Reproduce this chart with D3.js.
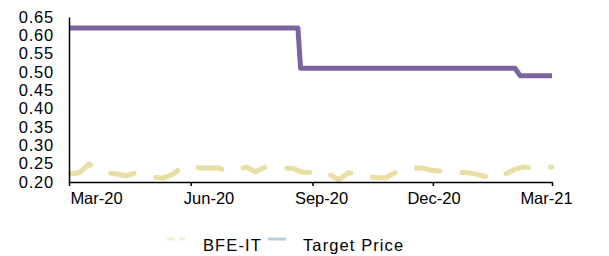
<!DOCTYPE html>
<html><head><meta charset="utf-8">
<script src="https://cdn.jsdelivr.net/npm/d3@7"></script>
<style>
body{margin:0;background:#fff;}
text{font-family:"Liberation Sans",Arial,sans-serif;fill:#000;}
</style></head>
<body><svg id="c" width="609" height="256"></svg>
<script>
const bfeStart = "2020-03-02";
const bfeValues = [0.222,0.226,0.249,0.232,0.225,0.222,0.217,0.224,0.218,0.213,0.211,0.220,0.240,0.244,
0.238,0.238,0.238,0.228,0.233,0.241,0.228,0.240,0.240,0.238,0.237,0.227,0.226,0.232,0.220,0.206,
0.225,0.224,0.215,0.212,0.211,0.225,0.235,0.238,0.238,0.232,0.230,0.229,0.226,0.225,0.220,0.214,
0.209,0.222,0.235,0.241,0.238,0.238,0.241];
const targetDates = ["2020-03-01","2020-08-21","2020-08-23","2021-02-01","2021-02-05","2021-03-01"];
const targetValues = [0.62,0.62,0.51,0.51,0.49,0.49];
const xTickDates = ["2020-03-01","2020-06-01","2020-09-01","2020-12-01","2021-03-01"];
const xTickLabels = ["Mar-20","Jun-20","Sep-20","Dec-20","Mar-21"];
const yTicks = [0.20,0.25,0.30,0.35,0.40,0.45,0.50,0.55,0.60,0.65];
const seriesNames = ["BFE-IT","Target Price"];

const parse = d3.timeParse("%Y-%m-%d");
const svg = d3.select("#c");
const x = d3.scaleTime().domain([parse("2020-03-01"), parse("2021-03-01")]).range([69,552]);
const y = d3.scaleLinear().domain([0.20,0.65]).range([182,17]);

const s0 = parse(bfeStart);
const bfe = bfeValues.map((v,i)=>({d:d3.timeDay.offset(s0,i*7),v}));
const tgt = targetDates.map((d,i)=>({d:parse(d),v:targetValues[i]}));

const line = d3.line().x(p=>x(p.d)).y(p=>y(p.v));

svg.append("path").datum(bfe).attr("d",line).attr("fill","none")
  .attr("stroke","#E9DEA3").attr("stroke-width",5).attr("stroke-linecap","round")
  .attr("stroke-linejoin","round").attr("stroke-dasharray","24,22");
svg.append("path").datum(tgt).attr("d",line).attr("fill","none")
  .attr("stroke","#7C64A1").attr("stroke-width",5).attr("stroke-linejoin","round");

// y axis
const ya = svg.append("g").attr("transform","translate(69,0)")
  .call(d3.axisLeft(y).tickValues(yTicks).tickFormat(d3.format(".2f")).tickSize(0).tickPadding(15));
ya.select(".domain").attr("stroke","#000").attr("stroke-width",1.5);
ya.selectAll("text").style("font-size","16.5px").style("letter-spacing","0.8px").attr("font-family",null);

// x axis ticks
const xa = svg.append("g").attr("transform","translate(0,182)")
  .call(d3.axisBottom(x).tickValues(xTickDates.map(parse)).tickFormat("").tickSize(4).tickSizeOuter(0));
xa.select(".domain").attr("stroke","#000").attr("stroke-width",1.5);
xa.selectAll("line").attr("stroke","#000").attr("stroke-width",1.5);

// x labels
const xl = d3.scalePoint().domain(xTickLabels).range([96,546]);
const xla = svg.append("g").attr("transform","translate(0,192)")
  .call(d3.axisBottom(xl).tickSize(0).tickPadding(0));
xla.select(".domain").remove();
xla.selectAll("text").style("font-size","16.5px").attr("font-family",null);

// legend
const lg = svg.append("g");
const legX = [167,268], legTx=[203,303], legCol=["#F3EEDA","#B4D0DE"], legDash=["8,4",null];
seriesNames.forEach((n,i)=>{
  lg.append("line").attr("x1",legX[i]).attr("x2",legX[i]+18).attr("y1",239).attr("y2",239)
    .attr("stroke",legCol[i]).attr("stroke-width",3).attr("stroke-dasharray",legDash[i]);
  lg.append("text").attr("x",legTx[i]).attr("y",251).style("font-size","16.5px")
    .style("letter-spacing","1.1px").text(n);
});
</script></body></html>
